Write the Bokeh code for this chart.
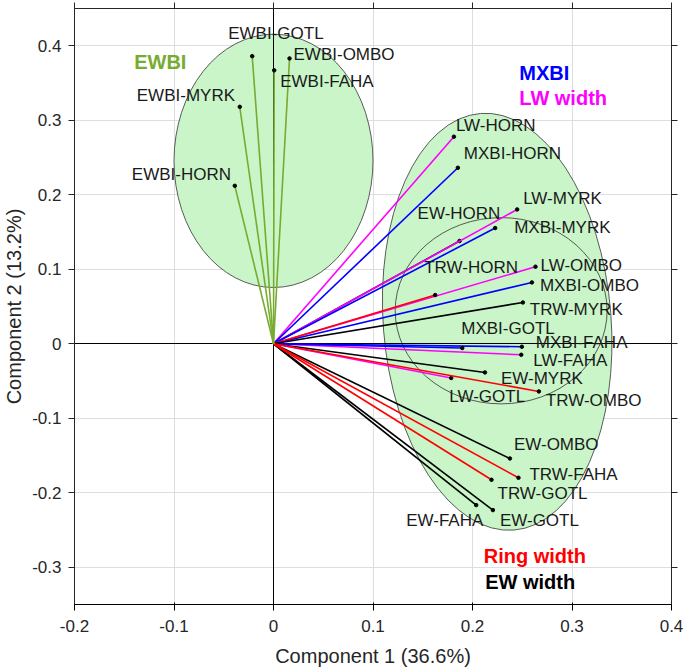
from bokeh.plotting import figure
from bokeh.models import Range1d, FixedTicker, Label, ColumnDataSource, LinearAxis
from bokeh.core.properties import value
from bokeh.embed import file_html
from bokeh.resources import INLINE

# ---- data (site order: HORN, MYRK, OMBO, GOTL, FAHA) ----
sites = ["HORN", "MYRK", "OMBO", "GOTL", "FAHA"]

ewbi_x = [-0.0389, -0.0339, 0.0161, -0.0214, 0.0007]
ewbi_y = [0.212, 0.318, 0.383, 0.386, 0.367]

mxbi_x = [0.1853, 0.2228, 0.2597, 0.1897, 0.2496]
mxbi_y = [0.2362, 0.1553, 0.0823, -0.0058, -0.0040]

lw_x = [0.1813, 0.2449, 0.2633, 0.1786, 0.2490]
lw_y = [0.2779, 0.1803, 0.1034, -0.0460, -0.0148]

trw_x = [0.1625, 0.2506, 0.2667, 0.2191, 0.2462]
trw_y = [0.0654, 0.0554, -0.0640, -0.1826, -0.1799]

ew_x = [0.1870, 0.2125, 0.2376, 0.2205, 0.2037]
ew_y = [0.1380, -0.0385, -0.1540, -0.2233, -0.2166]

x_ticks = [-0.2, -0.1, 0, 0.1, 0.2, 0.3, 0.4]
x_tick_labels = ["-0.2", "-0.1", "0", "0.1", "0.2", "0.3", "0.4"]
y_ticks = [-0.3, -0.2, -0.1, 0, 0.1, 0.2, 0.3, 0.4]
y_tick_labels = ["-0.3", "-0.2", "-0.1", "0", "0.1", "0.2", "0.3", "0.4"]
x_label = "Component 1 (36.6%)"
y_label = "Component 2 (13.2%)"

# ---- styles / label placement (pixel offsets from vector tips) ----
GREEN = "#77ac30"
groups = [
    # prefix, xs, ys, line colours, label offsets (dx, dy) in px
    ("EW", ew_x, ew_y, ["black"] * 5,
     [(-42, -27), (16, 6), (4, -14), (7, 10), (-70, 15)]),
    ("LW", lw_x, lw_y, ["#ff00ff"] * 5,
     [(2, -11), (6, -11), (5, -1), (-2, 18), (12, 6)]),
    ("MXBI", mxbi_x, mxbi_y, ["#0000ff"] * 5,
     [(6, -14), (19, -1), (8, 3), (-1, -20), (14, -4)]),
    ("TRW", trw_x, trw_y, ["#ff0000", "black", "#ff0000", "#ff0000", "#ff0000"],
     [(-11, -28), (7, 7), (7, 9), (6, 14), (11, -3)]),
    ("EWBI", ewbi_x, ewbi_y, [GREEN] * 5,
     [(-103, -11), (-103, -11), (4, -4), (-24, -23), (6, 11)]),
]

FONT_NAME = "Liberation Sans"
FONT = value(FONT_NAME)
TXT = "#262626"

p = figure(width=685, height=669, output_backend="svg", toolbar_location=None,
           x_range=Range1d(-0.2, 0.4), y_range=Range1d(-0.35, 0.45),
           min_border_left=73, min_border_right=14, min_border_top=8,
           min_border_bottom=64, background_fill_color="white")

p.outline_line_color = TXT
p.outline_line_width = 1

# mirrored tick-only axes (top / right), as in a boxed MATLAB axes
p.add_layout(LinearAxis(ticker=FixedTicker(ticks=x_ticks)), "above")
p.add_layout(LinearAxis(ticker=FixedTicker(ticks=y_ticks)), "right")
for ax in (p.above[0], p.right[0]):
    ax.major_label_text_font_size = "0px"
    ax.major_label_text_color = None
    ax.major_label_standoff = 0

for ax in (p.xaxis[0], p.yaxis[0], p.above[0], p.right[0]):
    ax.axis_line_color = TXT
    ax.major_tick_line_color = TXT
    ax.major_tick_in = 0
    ax.major_tick_out = 6
    ax.minor_tick_line_color = None

for ax in (p.below[0], p.left[0]):
    ax.major_label_text_font = FONT_NAME
    ax.major_label_text_font_size = "17px"
    ax.major_label_text_color = TXT
    ax.axis_label_text_font = FONT_NAME
    ax.axis_label_text_font_size = "20px"
    ax.axis_label_text_font_style = "normal"
    ax.axis_label_text_color = TXT

p.below[0].ticker = FixedTicker(ticks=x_ticks)
p.left[0].ticker = FixedTicker(ticks=y_ticks)
p.below[0].major_label_overrides = dict(zip(x_ticks, x_tick_labels))
p.left[0].major_label_overrides = dict(zip(y_ticks, y_tick_labels))
p.below[0].axis_label = x_label
p.left[0].axis_label = y_label
p.below[0].major_label_standoff = 9
p.below[0].axis_label_standoff = 10
p.left[0].major_label_standoff = 7
p.left[0].axis_label_standoff = 4

p.xgrid.ticker = FixedTicker(ticks=x_ticks)
p.ygrid.ticker = FixedTicker(ticks=y_ticks)
p.grid.grid_line_color = "#dedede"
p.grid.grid_line_width = 1

# ---- cluster ellipses ----
p.ellipse(x=[0.0], y=[0.2455], width=[0.2], height=[0.34],
          fill_color="#c9f5c9", line_color="#333333", line_width=0.8)
p.ellipse(x=[0.2248], y=[0.0295], width=[0.229], height=[0.561], angle=[0.08],
          fill_color="#c9f5c9", line_color="#333333", line_width=0.8)
p.ellipse(x=[0.2288], y=[0.0443], width=[0.213], height=[0.25], angle=[0.0],
          fill_color=None, line_color="#333333", line_width=0.8)

# zero lines
p.hspan(y=[0], line_color="black", line_width=1)
p.vspan(x=[0], line_color="black", line_width=1)

# ---- loading vectors ----
for prefix, xs, ys, cols, offs in groups:
    src = ColumnDataSource(dict(
        x0=[0] * len(xs), y0=[0] * len(xs), x1=xs, y1=ys, c=cols))
    p.segment(x0="x0", y0="y0", x1="x1", y1="y1", line_color="c",
              line_width=1.6, source=src)
    p.scatter(x="x1", y="y1", size=3.5, color="black", source=src)

for prefix, xs, ys, cols, offs in groups:
    src = ColumnDataSource(dict(
        x=xs, y=ys, lab=[f"{prefix}-{s}" for s in sites],
        dx=[o[0] for o in offs], dy=[o[1] for o in offs]))
    p.text(x="x", y="y", text="lab", x_offset="dx", y_offset="dy",
           text_align="left", text_baseline="middle", text_font=FONT,
           text_font_size="17px", text_color="#1a1a1a", source=src)

# ---- group legend texts ----
legend_items = [
    ("EWBI", -0.14, 0.3785, GREEN),
    ("MXBI", 0.247, 0.3638, "#0000ff"),
    ("LW width", 0.247, 0.330, "#ff00ff"),
    ("Ring width", 0.2113, -0.2846, "#ff0000"),
    ("EW width", 0.2128, -0.3204, "black"),
]
for t, lx, ly, c in legend_items:
    p.add_layout(Label(x=lx, y=ly, text=t, text_color=c, text_font=FONT_NAME,
                       text_font_size="20px", text_font_style="bold",
                       text_baseline="middle", text_align="left"))

open("out.html", "w").write(file_html(p, INLINE))
